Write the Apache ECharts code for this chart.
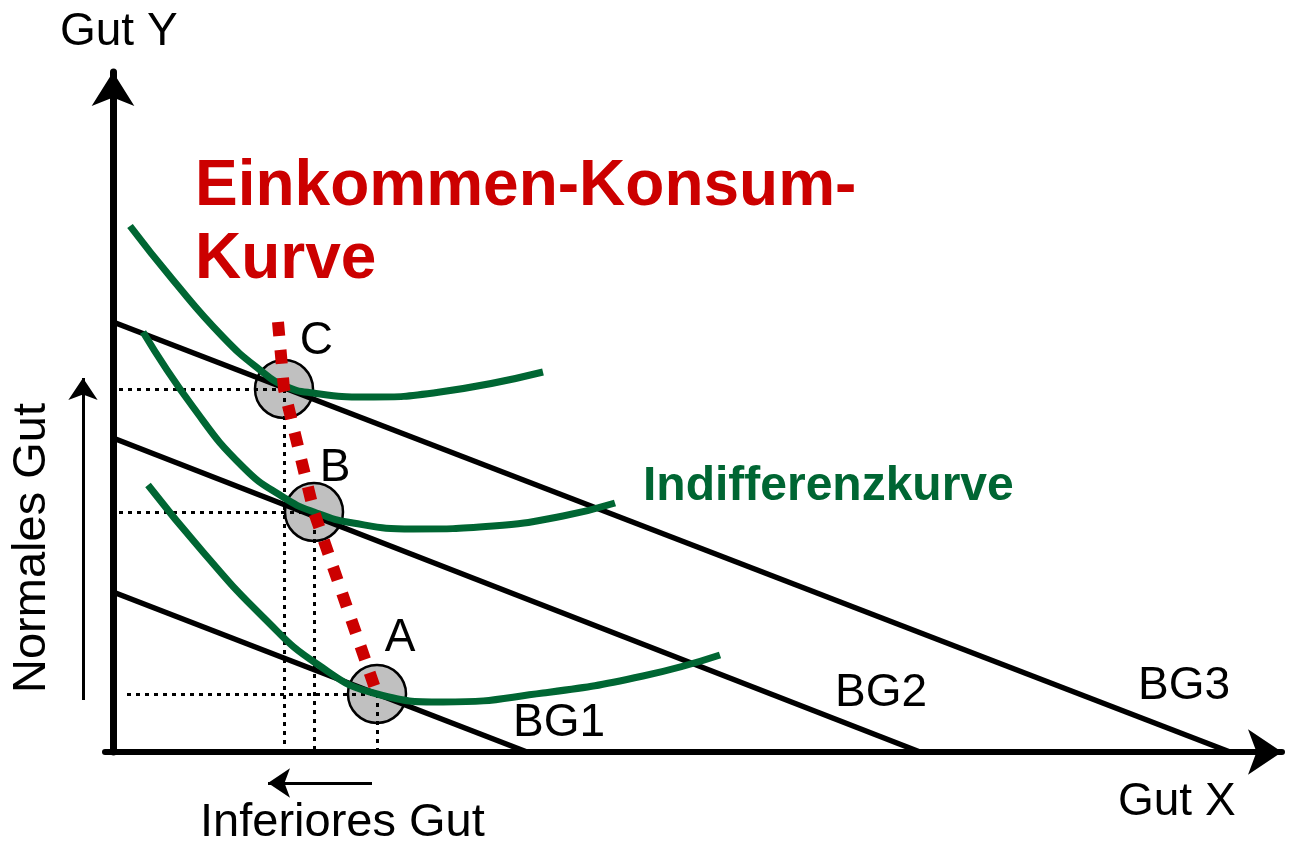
<!DOCTYPE html>
<html>
<head>
<meta charset="utf-8">
<script src="https://cdn.jsdelivr.net/npm/echarts@6/dist/echarts.min.js"></script>
<style>
  html, body { margin: 0; padding: 0; background: #fff; }
  #main { width: 1289px; height: 843px; }
</style>
</head>
<body>
<div id="main"></div>
<script>
// budget lines (Budgetgeraden), x = Gut X, y = Gut Y
var bg1 = [[0, 160], [414, 0]];
var bg2 = [[0, 314], [807, 0]];
var bg3 = [[0, 430], [1117, 0]];
var bgNames = ['BG1', 'BG2', 'BG3'];

// indifference curves
var ic1 = [[35, 267], [90, 200], [150, 135], [204, 88], [264, 58], [330, 50], [430, 59], [530, 76], [607, 97]];
var ic2 = [[30, 420], [80, 345], [130, 285], [170, 255], [201, 240], [240, 229], [300, 223], [380, 226], [450, 236], [502, 249]];
var ic3 = [[17, 526], [60, 472], [110, 415], [147, 382], [172, 366], [200, 359], [254, 355], [327, 360], [430, 380]];

// optimum points C, B, A and the income-consumption curve
var optNames = ['C', 'B', 'A'];
var optX = [171, 201, 264];
var optY = [363, 240, 58];
var ikkTop = [165, 430];
var hStart = [6, 6, 14];

var dom = document.getElementById('main');
var myChart = echarts.init(dom);
var font = '"Liberation Sans", Arial, sans-serif';

var labelPos = [[46, -40], [36, -36], [38, -48]];
var optPoints = optX.map(function (x, i) {
    return { value: [x, optY[i]], label: { position: labelPos[i] } };
});
var ikk = [ikkTop].concat(optX.map(function (x, i) { return [x, optY[i]]; }));

var guides = [];
optX.forEach(function (x, i) {
    guides.push({ coords: [[hStart[i], optY[i]], [x, optY[i]]] });
    guides.push({ coords: [[x, optY[i]], [x, 0]] });
});

var series = [];
// points (circles) at the bottom
series.push({
    type: 'scatter',
    data: optPoints,
    symbolSize: 58,
    z: 1,
    itemStyle: { color: '#c0c0c0', borderColor: '#000', borderWidth: 2.5, opacity: 1 },
    label: {
        show: true,
        formatter: function (p) { return optNames[p.dataIndex]; },
        fontSize: 46,
        fontFamily: font,
        color: '#000'
    }
});
series.push({
    type: 'lines',
    coordinateSystem: 'cartesian2d',
    z: 2,
    lineStyle: { color: '#000', width: 3, type: [4, 5], opacity: 1 },
    data: guides
});
[bg1, bg2, bg3].forEach(function (d) {
    series.push({
        type: 'line', data: d, z: 3, showSymbol: false, symbol: 'none',
        lineStyle: { color: '#000', width: 5.5 }
    });
});
[ic1, ic2, ic3].forEach(function (d) {
    series.push({
        type: 'line', data: d, z: 4, smooth: 0.5, showSymbol: false, symbol: 'none',
        lineStyle: { color: '#006633', width: 7 }
    });
});
series.push({
    type: 'line', data: ikk, z: 5, showSymbol: false, symbol: 'none',
    lineStyle: { color: '#cc0000', width: 12, type: [14, 14], cap: 'butt' }
});
// direction arrows beside the axes
series.push({
    type: 'lines',
    coordinateSystem: 'cartesian2d',
    clip: false,
    z: 5,
    symbol: ['none', 'arrow'],
    symbolSize: [20, 22],
    lineStyle: { color: '#000', width: 3, opacity: 1 },
    data: [
        { coords: [[-30, 52], [-30, 374]] },
        { coords: [[259, -31], [155, -31]] }
    ]
});

var option = {
    animation: false,
    backgroundColor: '#fff',
    grid: { left: 105, top: 72, width: 1177, height: 680 },
    xAxis: {
        type: 'value', min: -8, max: 1169,
        splitLine: { show: false }, axisTick: { show: false }, axisLabel: { show: false },
        axisLine: { show: true, onZero: true, symbol: ['none', 'arrow'], symbolSize: [34, 34], lineStyle: { color: '#000', width: 6 } }
    },
    yAxis: {
        type: 'value', min: 0, max: 680,
        splitLine: { show: false }, axisTick: { show: false }, axisLabel: { show: false },
        axisLine: { show: true, onZero: true, symbol: ['none', 'arrow'], symbolSize: [32, 34], lineStyle: { color: '#000', width: 7 } }
    },
    graphic: [
        { type: 'text', x: 60, y: 32, style: { text: 'Gut Y', font: '46px ' + font, fill: '#000', textAlign: 'left', textVerticalAlign: 'middle' } },
        { type: 'text', x: 1118, y: 802, style: { text: 'Gut X', font: '46px ' + font, fill: '#000', textAlign: 'left', textVerticalAlign: 'middle' } },
        { type: 'text', x: 200, y: 823, style: { text: 'Inferiores Gut', font: '47px ' + font, fill: '#000', textAlign: 'left', textVerticalAlign: 'middle' } },
        { type: 'text', x: 32, y: 548, rotation: Math.PI / 2, style: { text: 'Normales Gut', font: '47px ' + font, fill: '#000', textAlign: 'center', textVerticalAlign: 'middle' } },
        { type: 'text', x: 195, y: 187, style: { text: 'Einkommen-Konsum-', font: 'bold 64px ' + font, fill: '#cc0000', textAlign: 'left', textVerticalAlign: 'middle' } },
        { type: 'text', x: 195, y: 260, style: { text: 'Kurve', font: 'bold 64px ' + font, fill: '#cc0000', textAlign: 'left', textVerticalAlign: 'middle' } },
        { type: 'text', x: 643, y: 487, style: { text: 'Indifferenzkurve', font: 'bold 48px ' + font, fill: '#006633', textAlign: 'left', textVerticalAlign: 'middle' } },
        { type: 'text', x: 513, y: 723, style: { text: bgNames[0], font: '46px ' + font, fill: '#000', textAlign: 'left', textVerticalAlign: 'middle' } },
        { type: 'text', x: 835, y: 693, style: { text: bgNames[1], font: '46px ' + font, fill: '#000', textAlign: 'left', textVerticalAlign: 'middle' } },
        { type: 'text', x: 1138, y: 686, style: { text: bgNames[2], font: '46px ' + font, fill: '#000', textAlign: 'left', textVerticalAlign: 'middle' } }
    ],
    series: series
};

if (option && typeof option === 'object') {
    myChart.setOption(option);
}
</script>
</body>
</html>
